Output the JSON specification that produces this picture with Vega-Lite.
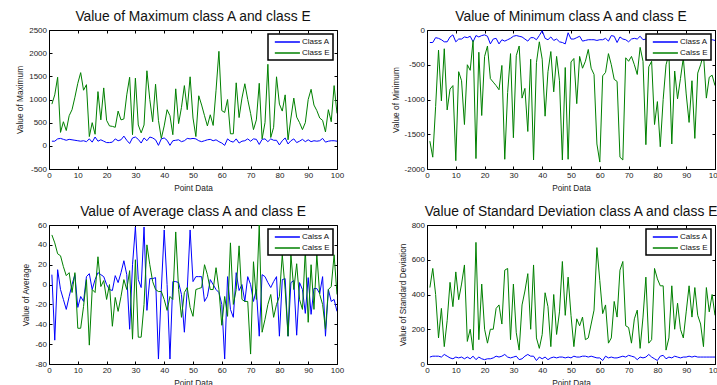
{
"$schema": "https://vega.github.io/schema/vega-lite/v6.json",
"padding": {"left": 15, "top": 9, "right": 0, "bottom": 0},
"background": "white",
"bounds": "flush",
"columns": 2,
"spacing": {"row": 56, "column": 90},
"datasets": {
"max": [
{"x":1,"Class A":100,"Class E":900},{"x":2,"Class A":100,"Class E":1100},{"x":3,"Class A":150,"Class E":1480},{"x":4,"Class A":160,"Class E":290},{"x":5,"Class A":140,"Class E":520},{"x":6,"Class A":120,"Class E":330},{"x":7,"Class A":140,"Class E":650},{"x":8,"Class A":130,"Class E":780},{"x":9,"Class A":120,"Class E":1050},{"x":10,"Class A":110,"Class E":1350},
{"x":11,"Class A":100,"Class E":1580},{"x":12,"Class A":110,"Class E":1200},{"x":13,"Class A":90,"Class E":1320},{"x":14,"Class A":150,"Class E":200},{"x":15,"Class A":80,"Class E":500},{"x":16,"Class A":190,"Class E":250},{"x":17,"Class A":100,"Class E":1170},{"x":18,"Class A":130,"Class E":560},{"x":19,"Class A":100,"Class E":1250},{"x":20,"Class A":70,"Class E":550},
{"x":21,"Class A":70,"Class E":430},{"x":22,"Class A":80,"Class E":420},{"x":23,"Class A":150,"Class E":400},{"x":24,"Class A":110,"Class E":750},{"x":25,"Class A":130,"Class E":560},{"x":26,"Class A":210,"Class E":580},{"x":27,"Class A":120,"Class E":1100},{"x":28,"Class A":50,"Class E":1480},{"x":29,"Class A":170,"Class E":240},{"x":30,"Class A":190,"Class E":1460},
{"x":31,"Class A":140,"Class E":450},{"x":32,"Class A":60,"Class E":280},{"x":33,"Class A":170,"Class E":450},{"x":34,"Class A":110,"Class E":1620},{"x":35,"Class A":190,"Class E":1000},{"x":36,"Class A":170,"Class E":520},{"x":37,"Class A":130,"Class E":1330},{"x":38,"Class A":10,"Class E":550},{"x":39,"Class A":150,"Class E":160},{"x":40,"Class A":170,"Class E":430},
{"x":41,"Class A":120,"Class E":780},{"x":42,"Class A":10,"Class E":650},{"x":43,"Class A":110,"Class E":240},{"x":44,"Class A":120,"Class E":1230},{"x":45,"Class A":130,"Class E":480},{"x":46,"Class A":90,"Class E":830},{"x":47,"Class A":110,"Class E":1300},{"x":48,"Class A":160,"Class E":780},{"x":49,"Class A":150,"Class E":1490},{"x":50,"Class A":160,"Class E":600},
{"x":51,"Class A":150,"Class E":200},{"x":52,"Class A":110,"Class E":1080},{"x":53,"Class A":90,"Class E":880},{"x":54,"Class A":110,"Class E":650},{"x":55,"Class A":130,"Class E":430},{"x":56,"Class A":140,"Class E":670},{"x":57,"Class A":110,"Class E":440},{"x":58,"Class A":130,"Class E":1200},{"x":59,"Class A":90,"Class E":2040},{"x":60,"Class A":60,"Class E":760},
{"x":61,"Class A":10,"Class E":720},{"x":62,"Class A":150,"Class E":1000},{"x":63,"Class A":100,"Class E":260},{"x":64,"Class A":80,"Class E":260},{"x":65,"Class A":150,"Class E":1360},{"x":66,"Class A":60,"Class E":610},{"x":67,"Class A":100,"Class E":1030},{"x":68,"Class A":110,"Class E":1340},{"x":69,"Class A":150,"Class E":1000},{"x":70,"Class A":100,"Class E":700},
{"x":71,"Class A":150,"Class E":350},{"x":72,"Class A":140,"Class E":560},{"x":73,"Class A":30,"Class E":1350},{"x":74,"Class A":140,"Class E":150},{"x":75,"Class A":150,"Class E":500},{"x":76,"Class A":90,"Class E":1760},{"x":77,"Class A":150,"Class E":180},{"x":78,"Class A":120,"Class E":400},{"x":79,"Class A":120,"Class E":1490},{"x":80,"Class A":20,"Class E":900},
{"x":81,"Class A":110,"Class E":750},{"x":82,"Class A":170,"Class E":1100},{"x":83,"Class A":40,"Class E":130},{"x":84,"Class A":110,"Class E":600},{"x":85,"Class A":150,"Class E":1030},{"x":86,"Class A":70,"Class E":620},{"x":87,"Class A":100,"Class E":500},{"x":88,"Class A":140,"Class E":350},{"x":89,"Class A":90,"Class E":500},{"x":90,"Class A":130,"Class E":1000},
{"x":91,"Class A":90,"Class E":1220},{"x":92,"Class A":110,"Class E":880},{"x":93,"Class A":100,"Class E":760},{"x":94,"Class A":110,"Class E":600},{"x":95,"Class A":160,"Class E":550},{"x":96,"Class A":80,"Class E":300},{"x":97,"Class A":100,"Class E":780},{"x":98,"Class A":110,"Class E":520},{"x":99,"Class A":110,"Class E":1300},{"x":100,"Class A":100,"Class E":700}
],
"min": [
{"x":1,"Class A":-180,"Calss E":-1600},{"x":2,"Class A":-180,"Calss E":-1830},{"x":3,"Class A":-110,"Calss E":-1100},{"x":4,"Class A":-120,"Calss E":-290},{"x":5,"Class A":-140,"Calss E":-1020},{"x":6,"Class A":-170,"Calss E":-270},{"x":7,"Class A":-170,"Calss E":-1150},{"x":8,"Class A":-100,"Calss E":-850},{"x":9,"Class A":-70,"Calss E":-800},{"x":10,"Class A":-170,"Calss E":-1880},
{"x":11,"Class A":-130,"Calss E":-600},{"x":12,"Class A":-130,"Calss E":-730},{"x":13,"Class A":-100,"Calss E":-1360},{"x":14,"Class A":-110,"Calss E":-500},{"x":15,"Class A":-90,"Calss E":-580},{"x":16,"Class A":-170,"Calss E":-150},{"x":17,"Class A":-80,"Calss E":-1850},{"x":18,"Class A":-100,"Calss E":-320},{"x":19,"Class A":-80,"Calss E":-1230},{"x":20,"Class A":-70,"Calss E":-380},
{"x":21,"Class A":-90,"Calss E":-230},{"x":22,"Class A":-200,"Calss E":-700},{"x":23,"Class A":-130,"Calss E":-750},{"x":24,"Class A":-120,"Calss E":-800},{"x":25,"Class A":-200,"Calss E":-860},{"x":26,"Class A":-140,"Calss E":-510},{"x":27,"Class A":-160,"Calss E":-1860},{"x":28,"Class A":-140,"Calss E":-900},{"x":29,"Class A":-120,"Calss E":-340},{"x":30,"Class A":-90,"Calss E":-1550},
{"x":31,"Class A":-80,"Calss E":-370},{"x":32,"Class A":-90,"Calss E":-230},{"x":33,"Class A":-100,"Calss E":-980},{"x":34,"Class A":-130,"Calss E":-840},{"x":35,"Class A":-160,"Calss E":-1460},{"x":36,"Class A":-110,"Calss E":-420},{"x":37,"Class A":-110,"Calss E":-1870},{"x":38,"Class A":-140,"Calss E":-470},{"x":39,"Class A":-80,"Calss E":-170},{"x":40,"Class A":-10,"Calss E":-420},
{"x":41,"Class A":-120,"Calss E":-1240},{"x":42,"Class A":-140,"Calss E":-600},{"x":43,"Class A":-100,"Calss E":-310},{"x":44,"Class A":-150,"Calss E":-890},{"x":45,"Class A":-130,"Calss E":-380},{"x":46,"Class A":-170,"Calss E":-730},{"x":47,"Class A":-180,"Calss E":-1870},{"x":48,"Class A":-200,"Calss E":-540},{"x":49,"Class A":-40,"Calss E":-1860},{"x":50,"Class A":-130,"Calss E":-460},
{"x":51,"Class A":-130,"Calss E":-410},{"x":52,"Class A":-110,"Calss E":-1060},{"x":53,"Class A":-90,"Calss E":-380},{"x":54,"Class A":-160,"Calss E":-550},{"x":55,"Class A":-150,"Calss E":-450},{"x":56,"Class A":-140,"Calss E":-280},{"x":57,"Class A":-140,"Calss E":-550},{"x":58,"Class A":-140,"Calss E":-640},{"x":59,"Class A":-150,"Calss E":-1640},{"x":60,"Class A":-140,"Calss E":-1900},
{"x":61,"Class A":-140,"Calss E":-660},{"x":62,"Class A":-120,"Calss E":-610},{"x":63,"Class A":-160,"Calss E":-340},{"x":64,"Class A":-80,"Calss E":-500},{"x":65,"Class A":-90,"Calss E":-710},{"x":66,"Class A":-180,"Calss E":-740},{"x":67,"Class A":-100,"Calss E":-1830},{"x":68,"Class A":-130,"Calss E":-1870},{"x":69,"Class A":-140,"Calss E":-400},{"x":70,"Class A":-170,"Calss E":-450},
{"x":71,"Class A":-130,"Calss E":-380},{"x":72,"Class A":-120,"Calss E":-500},{"x":73,"Class A":-130,"Calss E":-640},{"x":74,"Class A":-90,"Calss E":-250},{"x":75,"Class A":-140,"Calss E":-450},{"x":76,"Class A":-130,"Calss E":-1650},{"x":77,"Class A":-150,"Calss E":-530},{"x":78,"Class A":-140,"Calss E":-450},{"x":79,"Class A":-130,"Calss E":-1360},{"x":80,"Class A":-140,"Calss E":-1030},
{"x":81,"Class A":-150,"Calss E":-1680},{"x":82,"Class A":-130,"Calss E":-1000},{"x":83,"Class A":-140,"Calss E":-500},{"x":84,"Class A":-120,"Calss E":-350},{"x":85,"Class A":-150,"Calss E":-1640},{"x":86,"Class A":-140,"Calss E":-590},{"x":87,"Class A":-130,"Calss E":-990},{"x":88,"Class A":-150,"Calss E":-700},{"x":89,"Class A":-140,"Calss E":-400},{"x":90,"Class A":-130,"Calss E":-920},
{"x":91,"Class A":-140,"Calss E":-1330},{"x":92,"Class A":-150,"Calss E":-730},{"x":93,"Class A":-130,"Calss E":-1560},{"x":94,"Class A":-140,"Calss E":-620},{"x":95,"Class A":-150,"Calss E":-500},{"x":96,"Class A":-140,"Calss E":-350},{"x":97,"Class A":-130,"Calss E":-980},{"x":98,"Class A":-150,"Calss E":-680},{"x":99,"Class A":-140,"Calss E":-650},{"x":100,"Class A":-150,"Calss E":-800}
],
"avg": [
{"x":1,"Calss A":10,"Calss E":50},{"x":2,"Calss A":-56,"Calss E":42},{"x":3,"Calss A":15,"Calss E":31},{"x":4,"Calss A":-5,"Calss E":29},{"x":5,"Calss A":-15,"Calss E":18},{"x":6,"Calss A":-25,"Calss E":9},{"x":7,"Calss A":-12,"Calss E":12},{"x":8,"Calss A":0,"Calss E":-8},{"x":9,"Calss A":10,"Calss E":12},{"x":10,"Calss A":-23,"Calss E":-44},
{"x":11,"Calss A":-12,"Calss E":-44},{"x":12,"Calss A":-17,"Calss E":-22},{"x":13,"Calss A":8,"Calss E":5},{"x":14,"Calss A":11,"Calss E":-61},{"x":15,"Calss A":-5,"Calss E":-5},{"x":16,"Calss A":5,"Calss E":-8},{"x":17,"Calss A":12,"Calss E":28},{"x":18,"Calss A":10,"Calss E":-2},{"x":19,"Calss A":8,"Calss E":4},{"x":20,"Calss A":0,"Calss E":-15},
{"x":21,"Calss A":-5,"Calss E":0},{"x":22,"Calss A":-6,"Calss E":-42},{"x":23,"Calss A":9,"Calss E":-13},{"x":24,"Calss A":2,"Calss E":-27},{"x":25,"Calss A":12,"Calss E":-12},{"x":26,"Calss A":24,"Calss E":5},{"x":27,"Calss A":10,"Calss E":-5},{"x":28,"Calss A":-45,"Calss E":14},{"x":29,"Calss A":20,"Calss E":-55},{"x":30,"Calss A":58,"Calss E":25},
{"x":31,"Calss A":5,"Calss E":-53},{"x":32,"Calss A":-3,"Calss E":-53},{"x":33,"Calss A":58,"Calss E":-20},{"x":34,"Calss A":-26,"Calss E":40},{"x":35,"Calss A":6,"Calss E":20},{"x":36,"Calss A":6,"Calss E":3},{"x":37,"Calss A":7,"Calss E":-5},{"x":38,"Calss A":-75,"Calss E":-7},{"x":39,"Calss A":-5,"Calss E":-7},{"x":40,"Calss A":55,"Calss E":-15},
{"x":41,"Calss A":0,"Calss E":-26},{"x":42,"Calss A":-75,"Calss E":-12},{"x":43,"Calss A":3,"Calss E":-15},{"x":44,"Calss A":3,"Calss E":53},{"x":45,"Calss A":2,"Calss E":-5},{"x":46,"Calss A":-10,"Calss E":-33},{"x":47,"Calss A":-48,"Calss E":-8},{"x":48,"Calss A":-5,"Calss E":-3},{"x":49,"Calss A":55,"Calss E":-23},{"x":50,"Calss A":3,"Calss E":-32},
{"x":51,"Calss A":8,"Calss E":-5},{"x":52,"Calss A":8,"Calss E":-4},{"x":53,"Calss A":8,"Calss E":-3},{"x":54,"Calss A":-17,"Calss E":20},{"x":55,"Calss A":-12,"Calss E":10},{"x":56,"Calss A":5,"Calss E":-5},{"x":57,"Calss A":0,"Calss E":-5},{"x":58,"Calss A":-5,"Calss E":17},{"x":59,"Calss A":-8,"Calss E":-5},{"x":60,"Calss A":-20,"Calss E":-41},
{"x":61,"Calss A":-75,"Calss E":-12},{"x":62,"Calss A":8,"Calss E":-32},{"x":63,"Calss A":-25,"Calss E":42},{"x":64,"Calss A":-33,"Calss E":-20},{"x":65,"Calss A":12,"Calss E":-5},{"x":66,"Calss A":-6,"Calss E":39},{"x":67,"Calss A":0,"Calss E":-15},{"x":68,"Calss A":-17,"Calss E":-17},{"x":69,"Calss A":8,"Calss E":-17},{"x":70,"Calss A":0,"Calss E":-70},
{"x":71,"Calss A":-17,"Calss E":23},{"x":72,"Calss A":-5,"Calss E":-15},{"x":73,"Calss A":-52,"Calss E":60},{"x":74,"Calss A":10,"Calss E":-48},{"x":75,"Calss A":8,"Calss E":-35},{"x":76,"Calss A":2,"Calss E":-20},{"x":77,"Calss A":-3,"Calss E":-10},{"x":78,"Calss A":3,"Calss E":-33},{"x":79,"Calss A":8,"Calss E":-20},{"x":80,"Calss A":-52,"Calss E":-12},
{"x":81,"Calss A":5,"Calss E":30},{"x":82,"Calss A":6,"Calss E":-5},{"x":83,"Calss A":-52,"Calss E":-52},{"x":84,"Calss A":2,"Calss E":30},{"x":85,"Calss A":4,"Calss E":-5},{"x":86,"Calss A":-51,"Calss E":21},{"x":87,"Calss A":2,"Calss E":-15},{"x":88,"Calss A":-5,"Calss E":-25},{"x":89,"Calss A":-29,"Calss E":35},{"x":90,"Calss A":7,"Calss E":-38},
{"x":91,"Calss A":-30,"Calss E":20},{"x":92,"Calss A":-4,"Calss E":-25},{"x":93,"Calss A":-4,"Calss E":30},{"x":94,"Calss A":-9,"Calss E":-10},{"x":95,"Calss A":8,"Calss E":-20},{"x":96,"Calss A":-52,"Calss E":-45},{"x":97,"Calss A":-5,"Calss E":-5},{"x":98,"Calss A":-17,"Calss E":-2},{"x":99,"Calss A":-15,"Calss E":30},{"x":100,"Calss A":-27,"Calss E":-10}
],
"std": [
{"x":1,"Calss A":40,"Class E":440},{"x":2,"Calss A":45,"Class E":550},{"x":3,"Calss A":45,"Class E":400},{"x":4,"Calss A":45,"Class E":150},{"x":5,"Calss A":40,"Class E":320},{"x":6,"Calss A":55,"Class E":100},{"x":7,"Calss A":45,"Class E":250},{"x":8,"Calss A":35,"Class E":470},{"x":9,"Calss A":30,"Class E":330},{"x":10,"Calss A":40,"Class E":530},
{"x":11,"Calss A":35,"Class E":370},{"x":12,"Calss A":40,"Class E":460},{"x":13,"Calss A":30,"Class E":570},{"x":14,"Calss A":40,"Class E":130},{"x":15,"Calss A":30,"Class E":200},{"x":16,"Calss A":45,"Class E":80},{"x":17,"Calss A":25,"Class E":700},{"x":18,"Calss A":40,"Class E":140},{"x":19,"Calss A":30,"Class E":460},{"x":20,"Calss A":25,"Class E":200},
{"x":21,"Calss A":30,"Class E":120},{"x":22,"Calss A":30,"Class E":200},{"x":23,"Calss A":35,"Class E":200},{"x":24,"Calss A":45,"Class E":320},{"x":25,"Calss A":40,"Class E":340},{"x":26,"Calss A":45,"Class E":230},{"x":27,"Calss A":55,"Class E":540},{"x":28,"Calss A":40,"Class E":550},{"x":29,"Calss A":35,"Class E":140},{"x":30,"Calss A":40,"Class E":460},
{"x":31,"Calss A":45,"Class E":180},{"x":32,"Calss A":25,"Class E":80},{"x":33,"Calss A":30,"Class E":340},{"x":34,"Calss A":45,"Class E":420},{"x":35,"Calss A":55,"Class E":520},{"x":36,"Calss A":45,"Class E":200},{"x":37,"Calss A":45,"Class E":570},{"x":38,"Calss A":20,"Class E":150},{"x":39,"Calss A":40,"Class E":90},{"x":40,"Calss A":30,"Class E":170},
{"x":41,"Calss A":40,"Class E":410},{"x":42,"Calss A":25,"Class E":330},{"x":43,"Calss A":35,"Class E":100},{"x":44,"Calss A":40,"Class E":400},{"x":45,"Calss A":35,"Class E":170},{"x":46,"Calss A":40,"Class E":300},{"x":47,"Calss A":40,"Class E":590},{"x":48,"Calss A":35,"Class E":280},{"x":49,"Calss A":40,"Class E":500},{"x":50,"Calss A":35,"Class E":280},
{"x":51,"Calss A":45,"Class E":100},{"x":52,"Calss A":40,"Class E":260},{"x":53,"Calss A":40,"Class E":220},{"x":54,"Calss A":45,"Class E":270},{"x":55,"Calss A":45,"Class E":140},{"x":56,"Calss A":40,"Class E":150},{"x":57,"Calss A":45,"Class E":230},{"x":58,"Calss A":40,"Class E":310},{"x":59,"Calss A":35,"Class E":670},{"x":60,"Calss A":35,"Class E":480},
{"x":61,"Calss A":20,"Class E":290},{"x":62,"Calss A":45,"Class E":340},{"x":63,"Calss A":35,"Class E":120},{"x":64,"Calss A":40,"Class E":150},{"x":65,"Calss A":35,"Class E":360},{"x":66,"Calss A":35,"Class E":270},{"x":67,"Calss A":40,"Class E":540},{"x":68,"Calss A":45,"Class E":590},{"x":69,"Calss A":40,"Class E":220},{"x":70,"Calss A":50,"Class E":210},
{"x":71,"Calss A":45,"Class E":120},{"x":72,"Calss A":40,"Class E":260},{"x":73,"Calss A":25,"Class E":310},{"x":74,"Calss A":40,"Class E":90},{"x":75,"Calss A":35,"Class E":270},{"x":76,"Calss A":40,"Class E":500},{"x":77,"Calss A":55,"Class E":120},{"x":78,"Calss A":40,"Class E":140},{"x":79,"Calss A":30,"Class E":550},{"x":80,"Calss A":20,"Class E":490},
{"x":81,"Calss A":45,"Class E":450},{"x":82,"Calss A":50,"Class E":450},{"x":83,"Calss A":30,"Class E":80},{"x":84,"Calss A":40,"Class E":150},{"x":85,"Calss A":35,"Class E":450},{"x":86,"Calss A":45,"Class E":200},{"x":87,"Calss A":40,"Class E":350},{"x":88,"Calss A":35,"Class E":200},{"x":89,"Calss A":40,"Class E":150},{"x":90,"Calss A":40,"Class E":300},
{"x":91,"Calss A":45,"Class E":450},{"x":92,"Calss A":40,"Class E":270},{"x":93,"Calss A":45,"Class E":440},{"x":94,"Calss A":40,"Class E":280},{"x":95,"Calss A":40,"Class E":230},{"x":96,"Calss A":40,"Class E":100},{"x":97,"Calss A":40,"Class E":440},{"x":98,"Calss A":40,"Class E":300},{"x":99,"Calss A":40,"Class E":400},{"x":100,"Calss A":40,"Class E":280}
]
},
"concat": [
{
"data": {"name": "max"},
"transform": [{"fold": ["Class A", "Class E"], "as": ["series", "v"]}],
"width": 288, "height": 139,
"title": "Value of Maximum class A and class E",
"layer": [
{
"mark": {"type": "line", "strokeWidth": 1, "clip": true},
"encoding": {
"x": {"field": "x", "type": "quantitative", "scale": {"domain": [0, 100], "nice": false}, "axis": {"title": "Point Data", "values": [0,10,20,30,40,50,60,70,80,90,100]}},
"y": {"field": "v", "type": "quantitative", "scale": {"domain": [-500, 2500], "nice": false}, "axis": {"title": "Value of Maximum", "values": [-500,0,500,1000,1500,2000,2500]}},
"color": {"field": "series", "type": "nominal", "scale": {"domain": ["Class A", "Class E"], "range": ["#0000ff", "#008000"]}, "legend": {"title": null}}
}
},
{
"mark": {"type": "point", "opacity": 0, "size": 0},
"encoding": {
"x": {"field": "x", "type": "quantitative", "scale": {"domain": [0, 100], "nice": false}, "axis": {"orient": "top", "labels": false, "title": null, "values": [0,10,20,30,40,50,60,70,80,90,100]}},
"y": {"field": "v", "type": "quantitative", "scale": {"domain": [-500, 2500], "nice": false}, "axis": {"orient": "right", "labels": false, "title": null, "values": [-500,0,500,1000,1500,2000,2500]}}
}
}
],
"resolve": {"axis": {"x": "independent", "y": "independent"}}
},
{
"data": {"name": "min"},
"transform": [{"fold": ["Class A", "Calss E"], "as": ["series", "v"]}],
"width": 288, "height": 139,
"title": "Value of Minimum class A and class E",
"layer": [
{
"mark": {"type": "line", "strokeWidth": 1, "clip": true},
"encoding": {
"x": {"field": "x", "type": "quantitative", "scale": {"domain": [0, 100], "nice": false}, "axis": {"title": "Point Data", "values": [0,10,20,30,40,50,60,70,80,90,100]}},
"y": {"field": "v", "type": "quantitative", "scale": {"domain": [-2000, 0], "nice": false}, "axis": {"title": "Value of Minimum", "values": [-2000,-1500,-1000,-500,0]}},
"color": {"field": "series", "type": "nominal", "scale": {"domain": ["Class A", "Calss E"], "range": ["#0000ff", "#008000"]}, "legend": {"title": null}}
}
},
{
"mark": {"type": "point", "opacity": 0, "size": 0},
"encoding": {
"x": {"field": "x", "type": "quantitative", "scale": {"domain": [0, 100], "nice": false}, "axis": {"orient": "top", "labels": false, "title": null, "values": [0,10,20,30,40,50,60,70,80,90,100]}},
"y": {"field": "v", "type": "quantitative", "scale": {"domain": [-2000, 0], "nice": false}, "axis": {"orient": "right", "labels": false, "title": null, "values": [-2000,-1500,-1000,-500,0]}}
}
}
],
"resolve": {"axis": {"x": "independent", "y": "independent"}}
},
{
"data": {"name": "avg"},
"transform": [{"fold": ["Calss A", "Calss E"], "as": ["series", "v"]}],
"width": 288, "height": 139,
"title": "Value of Average class A and class E",
"layer": [
{
"mark": {"type": "line", "strokeWidth": 1, "clip": true},
"encoding": {
"x": {"field": "x", "type": "quantitative", "scale": {"domain": [0, 100], "nice": false}, "axis": {"title": "Point Data", "values": [0,10,20,30,40,50,60,70,80,90,100]}},
"y": {"field": "v", "type": "quantitative", "scale": {"domain": [-80, 60], "nice": false}, "axis": {"title": "Value of Average", "values": [-80,-60,-40,-20,0,20,40,60]}},
"color": {"field": "series", "type": "nominal", "scale": {"domain": ["Calss A", "Calss E"], "range": ["#0000ff", "#008000"]}, "legend": {"title": null}}
}
},
{
"mark": {"type": "point", "opacity": 0, "size": 0},
"encoding": {
"x": {"field": "x", "type": "quantitative", "scale": {"domain": [0, 100], "nice": false}, "axis": {"orient": "top", "labels": false, "title": null, "values": [0,10,20,30,40,50,60,70,80,90,100]}},
"y": {"field": "v", "type": "quantitative", "scale": {"domain": [-80, 60], "nice": false}, "axis": {"orient": "right", "labels": false, "title": null, "values": [-80,-60,-40,-20,0,20,40,60]}}
}
}
],
"resolve": {"axis": {"x": "independent", "y": "independent"}}
},
{
"data": {"name": "std"},
"transform": [{"fold": ["Calss A", "Class E"], "as": ["series", "v"]}],
"width": 288, "height": 139,
"title": "Value of Standard Deviation class A and class E",
"layer": [
{
"mark": {"type": "line", "strokeWidth": 1, "clip": true},
"encoding": {
"x": {"field": "x", "type": "quantitative", "scale": {"domain": [0, 100], "nice": false}, "axis": {"title": "Point Data", "values": [0,10,20,30,40,50,60,70,80,90,100]}},
"y": {"field": "v", "type": "quantitative", "scale": {"domain": [0, 800], "nice": false}, "axis": {"title": "Value of Standard Deviation", "values": [0,200,400,600,800]}},
"color": {"field": "series", "type": "nominal", "scale": {"domain": ["Calss A", "Class E"], "range": ["#0000ff", "#008000"]}, "legend": {"title": null}}
}
},
{
"mark": {"type": "point", "opacity": 0, "size": 0},
"encoding": {
"x": {"field": "x", "type": "quantitative", "scale": {"domain": [0, 100], "nice": false}, "axis": {"orient": "top", "labels": false, "title": null, "values": [0,10,20,30,40,50,60,70,80,90,100]}},
"y": {"field": "v", "type": "quantitative", "scale": {"domain": [0, 800], "nice": false}, "axis": {"orient": "right", "labels": false, "title": null, "values": [0,200,400,600,800]}}
}
}
],
"resolve": {"axis": {"x": "independent", "y": "independent"}}
}
],
"resolve": {"scale": {"color": "independent", "x": "independent", "y": "independent"}, "legend": {"color": "independent"}},
"config": {
"font": "Liberation Sans",
"view": {"stroke": "#000", "strokeWidth": 1},
"title": {"font": "Liberation Sans", "fontSize": 13.8, "fontWeight": "normal", "color": "#111", "offset": 2.5, "frame": "group", "anchor": "middle", "baseline": "alphabetic"},
"axis": {"domain": false, "grid": false, "ticks": true, "tickSize": -3, "tickColor": "#000", "tickWidth": 1, "labelFont": "Liberation Sans", "labelFontSize": 8, "labelColor": "#222", "labelPadding": 5.5, "labelFlush": false, "labelOverlap": false, "labelExpr": "'' + datum.value", "titleFont": "Liberation Sans", "titleFontSize": 8.3, "titleFontWeight": "normal", "titleColor": "#222", "titlePadding": 4},
"legend": {"orient": "top-right", "offset": 4, "fillColor": "#fff", "strokeColor": "#000", "strokeWidth": 1.5, "padding": 3, "symbolType": "M-1,0H5", "symbolSize": 70, "symbolStrokeWidth": 1.5, "symbolOffset": 3, "labelOffset": 18, "rowPadding": 2, "labelFont": "Liberation Sans", "labelFontSize": 8, "labelColor": "#111", "cornerRadius": 0}
}
}
